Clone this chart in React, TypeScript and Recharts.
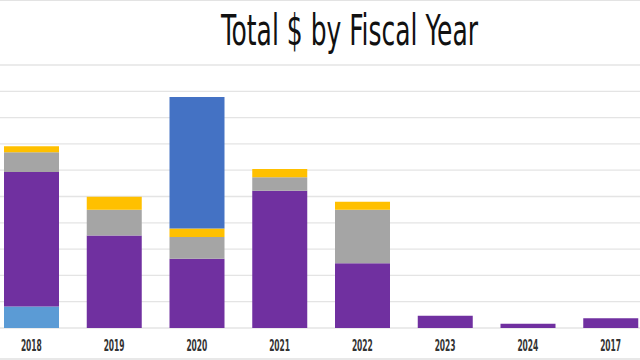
import { Bar, BarChart, CartesianGrid, XAxis, YAxis } from "recharts"

// fiscal years in the order shown
const years = ["2018", "2019", "2020", "2021", "2022", "2023", "2024", "2017"]

// stacked segments, bottom to top (units of one gridline step)
const lightBlue = [0.82, 0, 0, 0, 0, 0, 0, 0]
const purple = [5.11, 3.52, 2.63, 5.22, 2.46, 0.47, 0.16, 0.37]
const gray = [0.75, 0.98, 0.83, 0.51, 2.04, 0, 0, 0]
const yellow = [0.23, 0.49, 0.32, 0.32, 0.3, 0, 0, 0]
const blue = [0, 0, 5.0, 0, 0, 0, 0, 0]

const yTicks = [0, 1, 2, 3, 4, 5, 6, 7, 8, 9, 10]

const chartData = years.map((year, i) => ({
  year,
  lightBlue: lightBlue[i],
  purple: purple[i],
  gray: gray[i],
  yellow: yellow[i],
  blue: blue[i],
}))

function YearTick({ x, y, payload }: any) {
  return (
    <text
      x={x}
      y={y + 15}
      textAnchor="middle"
      fontFamily="'Liberation Sans Narrow', 'DejaVu Sans Condensed', sans-serif"
      fontWeight="bold"
      fontSize={15.5}
      fill="#333"
      textLength={21}
      lengthAdjust="spacingAndGlyphs"
    >
      {payload.value}
    </text>
  )
}

export default function App() {
  return (
    <div
      style={{
        position: "fixed",
        left: 0,
        top: 0,
        width: 640,
        height: 360,
        overflow: "hidden",
        background: "#fff",
      }}
    >
      <div style={{ position: "absolute", left: 0, top: 0, width: 640, height: 1, background: "#e3e3e3" }} />
      <div style={{ position: "absolute", left: 0, top: 358, width: 640, height: 2, background: "#e8e8e8" }} />
      <svg width={640} height={60} style={{ position: "absolute", left: 0, top: 0 }}>
        <text
          x={349.5}
          y={44.5}
          textAnchor="middle"
          fontFamily="'Liberation Sans Narrow', 'DejaVu Sans Condensed', sans-serif"
          fontSize={42}
          fill="#111"
          textLength={257}
          lengthAdjust="spacingAndGlyphs"
        >
          Total $ by Fiscal Year
        </text>
      </svg>
      <div style={{ position: "absolute", left: -10, top: 0 }}>
        <BarChart width={662} height={360} data={chartData} margin={{ top: 65, right: 0, bottom: 0, left: 0 }}>
          <CartesianGrid vertical={false} stroke="#e4e4e4" strokeWidth={1.3} />
          <YAxis hide domain={[0, 10]} ticks={yTicks} />
          <XAxis dataKey="year" height={32} axisLine={false} tickLine={false} tick={<YearTick />} interval={0} />
          <Bar dataKey="lightBlue" stackId="a" fill="#5B9BD5" barSize={55} isAnimationActive={false} />
          <Bar dataKey="purple" stackId="a" fill="#7030A0" barSize={55} isAnimationActive={false} />
          <Bar dataKey="gray" stackId="a" fill="#A5A5A5" barSize={55} isAnimationActive={false} />
          <Bar dataKey="yellow" stackId="a" fill="#FFC000" barSize={55} isAnimationActive={false} />
          <Bar dataKey="blue" stackId="a" fill="#4472C4" barSize={55} isAnimationActive={false} />
        </BarChart>
      </div>
    </div>
  )
}
